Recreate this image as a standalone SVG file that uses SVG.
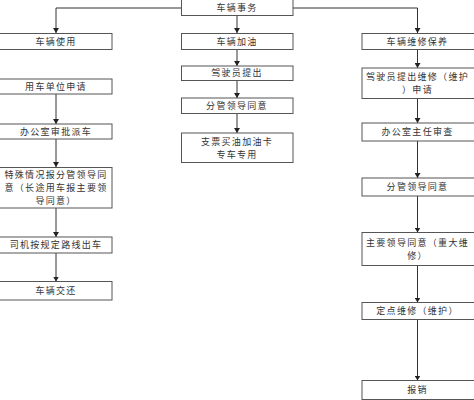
<svg xmlns="http://www.w3.org/2000/svg" width="474" height="400" viewBox="0 0 474 400">
<defs>
<marker id="ah" markerWidth="6" markerHeight="6" refX="5" refY="3" orient="auto" markerUnits="userSpaceOnUse">
<path d="M0,0 L5,3 L0,6 Z" fill="#222"/>
</marker>
<style>
.box{fill:#fff;stroke:#555;stroke-width:1}
.t{font-family:"Noto Sans CJK SC","Noto Sans",sans-serif;font-size:9px;fill:#333;text-anchor:middle;letter-spacing:1.3px}
.c{fill:none;stroke:#333;stroke-width:1}
</style>
</defs>
<rect width="474" height="400" fill="#fff"/>
<g id="connectors">
<path class="c" d="M181,8 H56 V33" marker-end="url(#ah)"/>
<path class="c" d="M293,8 H417.5 V33" marker-end="url(#ah)"/>
<path class="c" d="M237,15.5 V33" marker-end="url(#ah)"/>
<path class="c" d="M56,94 V124" marker-end="url(#ah)"/>
<path class="c" d="M56,139 V167" marker-end="url(#ah)"/>
<path class="c" d="M56,208 V237" marker-end="url(#ah)"/>
<path class="c" d="M56,253 V281.5" marker-end="url(#ah)"/>
<path class="c" d="M237,49.5 V66" marker-end="url(#ah)"/>
<path class="c" d="M237,80.5 V98" marker-end="url(#ah)"/>
<path class="c" d="M237,113.5 V133" marker-end="url(#ah)"/>
<path class="c" d="M417.5,49.5 V68" marker-end="url(#ah)"/>
<path class="c" d="M417.5,98.5 V123" marker-end="url(#ah)"/>
<path class="c" d="M417.5,141 V178" marker-end="url(#ah)"/>
<path class="c" d="M417.5,196 V232.5" marker-end="url(#ah)"/>
<path class="c" d="M417.5,265.5 V302.5" marker-end="url(#ah)"/>
<path class="c" d="M417.5,319.5 V380.5" marker-end="url(#ah)"/>
</g>
<g id="n0"><rect class="box" x="181.5" y="-0.5" width="111.5" height="16"/><text class="t" x="237" y="10.8">车辆事务</text></g>
<g id="n1"><rect class="box" x="-0.5" y="33.5" width="112.5" height="16"/><text class="t" x="56" y="44.8">车辆使用</text></g>
<g id="n2"><rect class="box" x="181.5" y="33.5" width="111.5" height="16"/><text class="t" x="237" y="44.8">车辆加油</text></g>
<g id="n3"><rect class="box" x="362" y="33.5" width="112.5" height="16"/><text class="t" x="417.5" y="44.8">车辆维修保养</text></g>
<g id="n4"><rect class="box" x="-0.5" y="79" width="112.5" height="15"/><text class="t" x="56" y="89.7">用车单位申请</text></g>
<g id="n5"><rect class="box" x="-0.5" y="124" width="112.5" height="15"/><text class="t" x="56" y="134.7">办公室审批派车</text></g>
<g id="n6"><rect class="box" x="-0.5" y="167.5" width="112.5" height="40.5"/><text class="t" x="56" y="177.5">特殊情况报分管领导同</text><text class="t" x="56" y="190.6">意（长途用车报主要领</text><text class="t" x="56" y="203.7">导同意）</text></g>
<g id="n7"><rect class="box" x="-0.5" y="237" width="112.5" height="16"/><text class="t" x="56" y="248.2">司机按规定路线出车</text></g>
<g id="n8"><rect class="box" x="-0.5" y="281.5" width="112.5" height="18.5"/><text class="t" x="56" y="293.9">车辆交还</text></g>
<g id="n9"><rect class="box" x="181.5" y="66" width="111.5" height="14.5"/><text class="t" x="237" y="76.4">驾驶员提出</text></g>
<g id="n10"><rect class="box" x="181.5" y="98" width="111.5" height="15.5"/><text class="t" x="237" y="108.9">分管领导同意</text></g>
<g id="n11"><rect class="box" x="181.5" y="133" width="111.5" height="29.5"/><text class="t" x="237" y="144.5">支票买油加油卡</text><text class="t" x="237" y="157.6">专车专用</text></g>
<g id="n12"><rect class="box" x="362" y="68" width="112.5" height="30.5"/><text class="t" x="417.5" y="80">驾驶员提出维修（维护</text><text class="t" x="417.5" y="93.1">）申请</text></g>
<g id="n13"><rect class="box" x="362" y="123" width="112.5" height="18"/><text class="t" x="417.5" y="135.2">办公室主任审查</text></g>
<g id="n14"><rect class="box" x="362" y="178" width="112.5" height="18"/><text class="t" x="417.5" y="190.2">分管领导同意</text></g>
<g id="n15"><rect class="box" x="362" y="232.5" width="112.5" height="33"/><text class="t" x="417.5" y="245.7">主要领导同意（重大维</text><text class="t" x="417.5" y="258.8">修）</text></g>
<g id="n16"><rect class="box" x="362" y="302.5" width="112.5" height="17"/><text class="t" x="417.5" y="314.2">定点维修（维护）</text></g>
<g id="n17"><rect class="box" x="362" y="380.5" width="112.5" height="19"/><text class="t" x="417.5" y="393.2">报销</text></g>
</svg>
